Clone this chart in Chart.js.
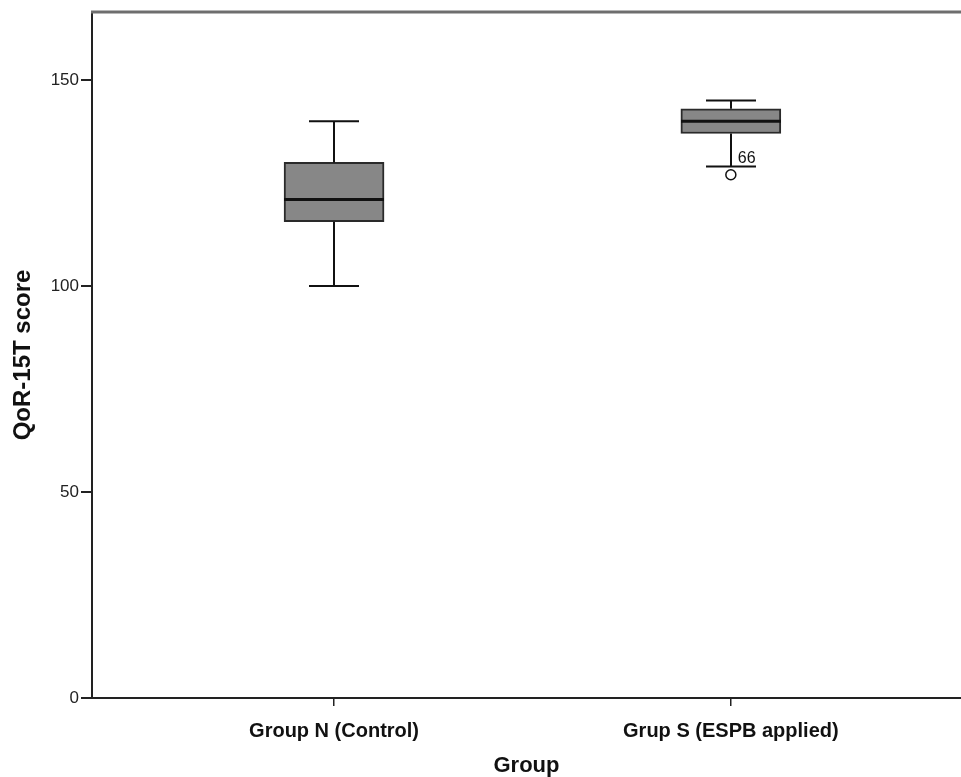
<!DOCTYPE html>
<html>
<head>
<meta charset="utf-8">
<script src="https://cdn.jsdelivr.net/npm/chart.js@4"></script>
<style>
  html, body { margin: 0; padding: 0; background: #fff; overflow: hidden; }
  canvas { display: block; }
</style>
</head>
<body>
<canvas id="boxChart" width="961" height="777"></canvas>
<script>
// QoR-15T score by group - box plot

const categories = ['Group N (Control)', 'Grup S (ESPB applied)'];
const positions = [1, 2];
const minVals = [100, 129];
const q1Vals = [115.6, 137];
const medianVals = [121, 140];
const q3Vals = [130, 143];
const maxVals = [140, 145];
const outlierGroup = [2];
const outlierVals = [127];
const outlierIds = ['66'];
const yTicks = [0, 50, 100, 150];

const FONT = "'Liberation Sans', Arial, sans-serif";

// whiskers, caps, medians, outlier labels, top frame line
const boxExtras = {
  id: 'boxExtras',
  afterDatasetsDraw(chart) {
    const ctx = chart.ctx;
    const x = chart.scales.x, y = chart.scales.y;
    const area = chart.chartArea;
    ctx.save();
    ctx.strokeStyle = '#111';
    ctx.lineCap = 'butt';
    positions.forEach((p, i) => {
      const cx = Math.round(x.getPixelForValue(p));
      const half = 50, cap = 25;
      ctx.lineWidth = 2;
      ctx.beginPath();
      ctx.moveTo(cx, y.getPixelForValue(q3Vals[i]));
      ctx.lineTo(cx, y.getPixelForValue(maxVals[i]));
      ctx.moveTo(cx, y.getPixelForValue(q1Vals[i]));
      ctx.lineTo(cx, y.getPixelForValue(minVals[i]));
      ctx.moveTo(cx - cap, y.getPixelForValue(maxVals[i]));
      ctx.lineTo(cx + cap, y.getPixelForValue(maxVals[i]));
      ctx.moveTo(cx - cap, y.getPixelForValue(minVals[i]));
      ctx.lineTo(cx + cap, y.getPixelForValue(minVals[i]));
      ctx.stroke();
      ctx.lineWidth = 3;
      ctx.beginPath();
      ctx.moveTo(cx - half, y.getPixelForValue(medianVals[i]));
      ctx.lineTo(cx + half, y.getPixelForValue(medianVals[i]));
      ctx.stroke();
    });
    ctx.fillStyle = '#111';
    ctx.font = '16px ' + FONT;
    ctx.textAlign = 'left';
    ctx.textBaseline = 'alphabetic';
    outlierVals.forEach((v, i) => {
      const px = x.getPixelForValue(outlierGroup[i]);
      const py = y.getPixelForValue(v);
      ctx.fillText(outlierIds[i], px + 7, py - 12);
    });
    ctx.strokeStyle = '#6e6e6e';
    ctx.lineWidth = 3;
    ctx.beginPath();
    ctx.moveTo(area.left - 1, area.top);
    ctx.lineTo(area.right, area.top);
    ctx.stroke();
    ctx.restore();
  }
};

new Chart(document.getElementById('boxChart'), {
  type: 'bar',
  data: {
    datasets: [{
      type: 'bar',
      data: positions.map((p, i) => ({ x: p, y: [q1Vals[i], q3Vals[i]] })),
      backgroundColor: '#878787',
      borderColor: '#2a2a2a',
      borderWidth: 2,
      borderSkipped: false,
      barThickness: 100,
      order: 2
    }, {
      type: 'scatter',
      data: outlierVals.map((v, i) => ({ x: outlierGroup[i], y: v })),
      pointStyle: 'circle',
      pointRadius: 5,
      pointBackgroundColor: '#fff',
      pointBorderColor: '#111',
      pointBorderWidth: 1.5,
      order: 1
    }]
  },
  options: {
    responsive: false,
    animation: false,
    layout: { autoPadding: false, padding: { top: 12, right: 0, left: 0, bottom: 0 } },
    plugins: {
      legend: { display: false },
      tooltip: { enabled: false }
    },
    scales: {
      x: {
        type: 'linear',
        offset: false,
        min: 0.39,
        max: 2.58,
        afterFit: s => { s.height = 79; s.paddingLeft = 0; s.paddingRight = 0; },
        afterBuildTicks: s => { s.ticks = positions.map(v => ({ value: v })); },
        grid: { offset: false, drawOnChartArea: false, tickLength: 8, color: '#222', lineWidth: 1.5 },
        border: { color: '#222', width: 2 },
        ticks: {
          color: '#111',
          padding: 13,
          maxRotation: 0,
          font: { family: FONT, size: 20, weight: 'bold' },
          callback: v => categories[positions.indexOf(v)]
        },
        title: {
          display: true,
          text: 'Group',
          color: '#111',
          padding: 0,
          font: { family: FONT, size: 22, weight: 'bold', lineHeight: 1 }
        }
      },
      y: {
        min: 0,
        max: 166.5,
        afterFit: s => { s.width = 92; s.paddingTop = 0; s.paddingBottom = 0; },
        afterBuildTicks: s => { s.ticks = yTicks.map(v => ({ value: v })); },
        grid: { drawOnChartArea: false, tickLength: 11, color: '#222', lineWidth: 2 },
        border: { color: '#222', width: 2 },
        ticks: {
          color: '#222',
          padding: 2,
          font: { family: FONT, size: 17 }
        },
        title: {
          display: true,
          text: 'QoR-15T score',
          color: '#111',
          padding: { top: 11, bottom: 0 },
          font: { family: FONT, size: 24, weight: 'bold', lineHeight: 1 }
        }
      }
    }
  },
  plugins: [boxExtras]
});
</script>
</body>
</html>
